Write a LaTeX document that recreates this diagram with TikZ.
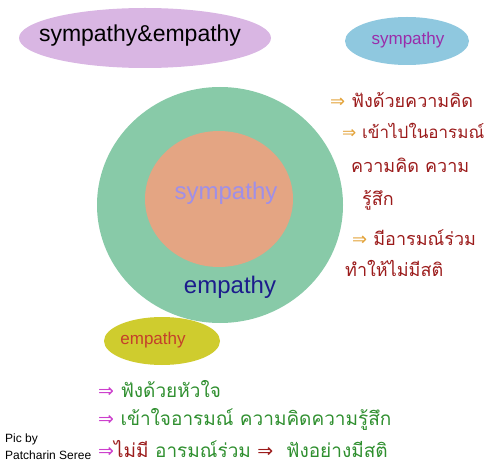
\documentclass[tikz,border=0pt]{standalone}
\usepackage{fontspec}
\setmainfont{Liberation Sans}
\newfontfamily\thai[Script=Thai]{Loma}
\newfontfamily\sym{DejaVu Sans}
\definecolor{blobpurple}{HTML}{D9B6E3}
\definecolor{blobblue}{HTML}{8FC8DF}
\definecolor{blobyellow}{HTML}{CFCC2E}
\definecolor{ringgreen}{HTML}{88CAA8}
\definecolor{coreorange}{HTML}{E4A583}
\definecolor{darkred}{HTML}{9B1B1B}
\definecolor{arrorange}{HTML}{E3A33A}
\definecolor{leafgreen}{HTML}{2F8F2F}
\definecolor{pinkarr}{HTML}{CC3FCC}
\definecolor{lavender}{HTML}{9F8FE8}
\definecolor{navy}{HTML}{1C1C8C}
\definecolor{plum}{HTML}{9A2DAA}
\definecolor{brick}{HTML}{C4402A}
\tikzset{
    ttl/.style={font=\fontsize{23}{25}\selectfont},
    rline/.style={anchor=west, inner sep=0pt, text=darkred, font=\thai\fontsize{18}{20}\selectfont},
    bline/.style={anchor=west, inner sep=0pt, text=leafgreen, font=\thai\fontsize{19}{21}\selectfont},
}
\begin{document}
\begin{tikzpicture}[x=1pt, y=-1pt]
    \useasboundingbox (0,0) rectangle (487,473);

    \fill[blobpurple] (145,38) ellipse (126 and 30);
    \fill[blobblue] (407,41) ellipse (62 and 24);
    \fill[ringgreen] (220,205) ellipse (123 and 118);
    \fill[coreorange] (219,199) ellipse (74 and 68);
    \fill[blobyellow] (162,341) ellipse (58 and 24);

    \node[ttl] (title) at (140,36) {sympathy\&empathy};
    \node[text=plum, font=\fontsize{17}{18}\selectfont] (symtag) at (408,40) {sympathy};
    \node[text=lavender, font=\fontsize{24}{26}\selectfont] (core) at (226,193) {sympathy};
    \node[text=navy, font=\fontsize{24}{26}\selectfont] (ring) at (230,287) {empathy};
    \node[text=brick, font=\fontsize{17}{18}\selectfont] (emptag) at (153,340) {empathy};

    \node[rline] (s1) at (330,100) {{\sym\color{arrorange}⇒} ฟังด้วยความคิด};
    \node[rline, font=\thai\fontsize{17}{19}\selectfont] (s2) at (342,131) {{\sym\color{arrorange}⇒} เข้าไปในอารมณ์};
    \node[rline] (s3) at (351,165) {ความคิด ความ};
    \node[rline] (s4) at (362,200) {รู้สึก};
    \node[rline] (s5) at (352,238) {{\sym\color{arrorange}⇒} มีอารมณ์ร่วม};
    \node[rline] (s6) at (345,268) {ทำให้ไม่มีสติ};

    \node[bline] (e1) at (98,389) {{\sym\color{pinkarr}⇒} ฟังด้วยหัวใจ};
    \node[bline] (e2) at (98,419) {{\sym\color{pinkarr}⇒} เข้าใจอารมณ์ ความคิดความรู้สึก};
    \node[bline] (e3) at (98,449) {{\sym\color{pinkarr}⇒}{\color{darkred}ไม่มี} อารมณ์ร่วม~{\sym\color{darkred}⇒}~ ฟังอย่างมีสติ};

    \node[anchor=north west, align=left, inner sep=0pt, font=\fontsize{12}{17}\selectfont] (credit) at (5,434) {Pic by\\Patcharin Seree};
\end{tikzpicture}
\end{document}
